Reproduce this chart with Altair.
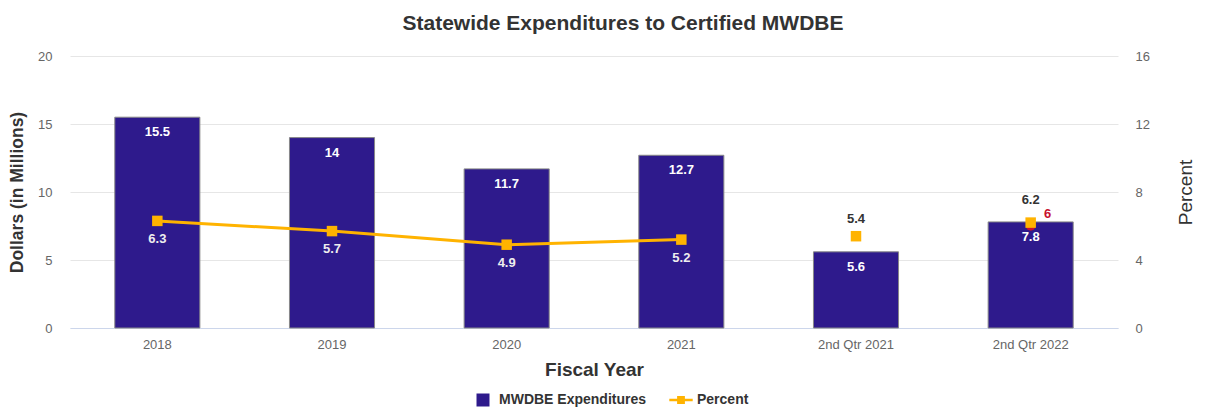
import altair as alt
import pandas as pd

years = ["2018", "2019", "2020", "2021", "2nd Qtr 2021", "2nd Qtr 2022"]
expenditures = [15.5, 14, 11.7, 12.7, 5.6, 7.8]
percent = [6.3, 5.7, 4.9, 5.2, 5.4, 6.2]
annual_years = ["2018", "2019", "2020", "2021"]
goal_years = ["2nd Qtr 2022"]
goal_values = [6]
legend_names = ["MWDBE Expenditures", "Percent"]

BAR = "#2E1A8C"
ORANGE = "#FFB300"
RED = "#C8102E"
FONT = "Liberation Sans"

df = pd.DataFrame({"year": years, "exp": expenditures, "pct": percent})
goal_df = pd.DataFrame({"year": goal_years, "goal": goal_values})
legend_df = pd.DataFrame({"series": legend_names})

xscale = alt.Scale(domain=years, paddingInner=0.513, paddingOuter=0.2565)
xenc = alt.X("year:N", scale=xscale, sort=years,
             axis=alt.Axis(title="Fiscal Year", labelAngle=0, labelFontSize=13,
                           labelColor="#666666", labelPadding=10, ticks=False,
                           domainColor="#CCD6EB", titleFontSize=19, titleFontWeight="bold",
                           titleColor="#333333", titlePadding=9, labelFont=FONT, titleFont=FONT))

yleft = alt.Y("exp:Q", scale=alt.Scale(domain=[0, 20]),
              axis=alt.Axis(title="Dollars (in Millions)", values=[0, 5, 10, 15, 20],
                            grid=True, gridColor="#E6E6E6", domain=False, ticks=False,
                            labelFontSize=13, labelColor="#666666", labelPadding=18,
                            titleFontSize=17.5, titleFontWeight="bold", titleColor="#333333",
                            titlePadding=11, labelFont=FONT, titleFont=FONT))

base = alt.Chart(df)
bars = base.mark_bar(color=BAR, stroke="#888888", strokeWidth=1).encode(x=xenc, y=yleft)
bar_text = base.mark_text(color="white", fontWeight="bold", fontSize=13, dy=15,
                          baseline="middle", font=FONT).encode(
    x=alt.X("year:N", scale=xscale, sort=years), y="exp:Q", text=alt.Text("exp:Q"))
left = alt.layer(bars, bar_text)

yright = alt.Y("pct:Q", scale=alt.Scale(domain=[0, 16]),
               axis=alt.Axis(title="Percent", orient="right", values=[0, 4, 8, 12, 16],
                             grid=False, domain=False, ticks=False, labelFontSize=13,
                             labelColor="#666666", labelPadding=17, titleFontSize=19,
                             titleFontWeight="normal", titleColor="#333333", titleAngle=270,
                             titlePadding=46, labelFont=FONT, titleFont=FONT))
xp = alt.X("year:N", scale=xscale, sort=years)

pbase = alt.Chart(df)
is_annual = alt.FieldOneOfPredicate(field="year", oneOf=annual_years)
line = pbase.transform_filter(is_annual).mark_line(
    color=ORANGE, strokeWidth=3).encode(x=xp, y=yright)
goal_pt = alt.Chart(goal_df).mark_point(shape="circle", filled=True, color=RED, size=90, opacity=1).encode(
    x=xp, y=alt.Y("goal:Q"))
goal_txt = alt.Chart(goal_df).mark_text(color=RED, fontWeight="bold", fontSize=13, dx=17, dy=-12,
                                        font=FONT).encode(x=xp, y=alt.Y("goal:Q"), text="goal:Q")
pts = pbase.mark_point(shape="square", filled=True, color=ORANGE, size=110, opacity=1).encode(x=xp, y="pct:Q")
below_txt = pbase.transform_filter(is_annual).mark_text(
    color="#EEEEEE", fontWeight="bold", fontSize=13, dy=18, font=FONT).encode(
    x=xp, y="pct:Q", text=alt.Text("pct:Q"))
above_txt1 = pbase.transform_filter(alt.FieldEqualPredicate(field="year", equal=years[4])).mark_text(
    color="#333333", fontWeight="bold", fontSize=13, dy=-17, font=FONT).encode(
    x=xp, y="pct:Q", text=alt.Text("pct:Q"))
above_txt2 = pbase.transform_filter(alt.FieldEqualPredicate(field="year", equal=years[5])).mark_text(
    color="#333333", fontWeight="bold", fontSize=13, dy=-23, font=FONT).encode(
    x=xp, y="pct:Q", text=alt.Text("pct:Q"))

leg = dict(title=None, orient="none", legendX=406, legendY=337, direction="horizontal",
           labelFontSize=14, labelFontWeight="bold", labelColor="#333333", labelFont=FONT,
           symbolOpacity=1, symbolSize=169, columnPadding=22, symbolStrokeWidth=0, labelOffset=9)
legend_layer = alt.Chart(legend_df).mark_point(filled=True, opacity=0).encode(
    x=alt.value(0), y=alt.value(0),
    color=alt.Color("series:N", scale=alt.Scale(domain=legend_names, range=[BAR, ORANGE]),
                    legend=alt.Legend(**leg)),
    shape=alt.Shape("series:N", scale=alt.Scale(
        domain=legend_names,
        range=["M-1,-1H1V1H-1Z",
               "M-1.8,-0.2H-0.6V-0.6H0.6V-0.2H1.8V0.2H0.6V0.6H-0.6V0.2H-1.8Z"]),
        legend=alt.Legend(**leg)))

right = alt.layer(line, goal_pt, pts, below_txt, above_txt1, above_txt2, goal_txt, legend_layer)

chart = alt.layer(left, right).resolve_scale(y="independent").properties(
    width=1048, height=272,
    autosize=alt.AutoSizeParams(type="none"),
    padding={"left": 62, "top": 48, "right": 88, "bottom": 80},
    title=alt.TitleParams("Statewide Expenditures to Certified MWDBE", fontSize=21, fontWeight="bold",
                          color="#333333", font=FONT, anchor="middle", offset=16, dx=29),
).configure_view(stroke=None)

chart.save("out.html", embed_options={"renderer": "svg", "actions": False})
